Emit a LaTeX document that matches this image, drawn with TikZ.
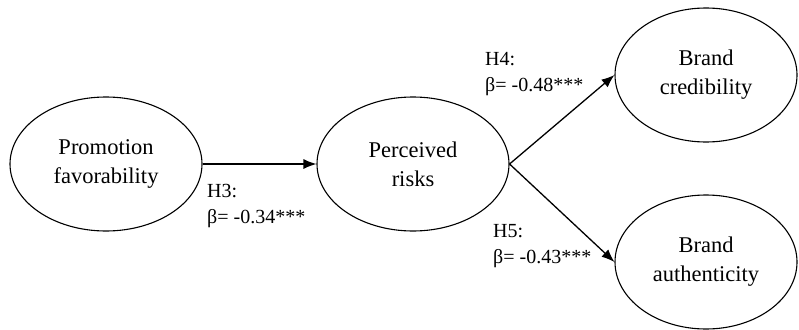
\documentclass[tikz,border=0pt]{standalone}
\usepackage{fontspec}
\setmainfont{Liberation Serif}
\usetikzlibrary{shapes.geometric,arrows.meta}
\begin{document}
\begin{tikzpicture}[x=1pt,y=-1pt,
 ell/.style={ellipse,draw,line width=1.1pt,minimum width=192pt,minimum height=134pt,inner sep=0pt,align=center,font=\fontsize{22.5}{29}\selectfont},
 lab/.style={anchor=base west,inner sep=0pt,font=\fontsize{20}{25}\selectfont},
 arr/.style={line width=1.3pt,-{Latex[length=13pt,width=10pt]}}]
\useasboundingbox (0,0) rectangle (799,329);
\node[ell] (pf) at (106,164) {Promotion\\favorability};
\node[ell] (pr) at (413,164) {Perceived\\risks};
\node[ell,minimum width=182pt] (bc) at (706,75) {Brand\\credibility};
\node[ell,minimum width=182pt] (ba) at (706,262) {Brand\\authenticity};
\draw[arr] (pf.east) -- (pr.west);
\draw[arr] (pr.east) -- (bc.west);
\draw[arr] (pr.east) -- (ba.west);
\node[lab] (h3a) at (207,197) {H3:};
\node[lab] (h3b) at (207,223) {β= -0.34***};
\node[lab] (h4a) at (485,65) {H4:};
\node[lab] (h4b) at (485,91) {β= -0.48***};
\node[lab] (h5a) at (493,237) {H5:};
\node[lab] (h5b) at (493,263) {β= -0.43***};
\end{tikzpicture}
\end{document}
